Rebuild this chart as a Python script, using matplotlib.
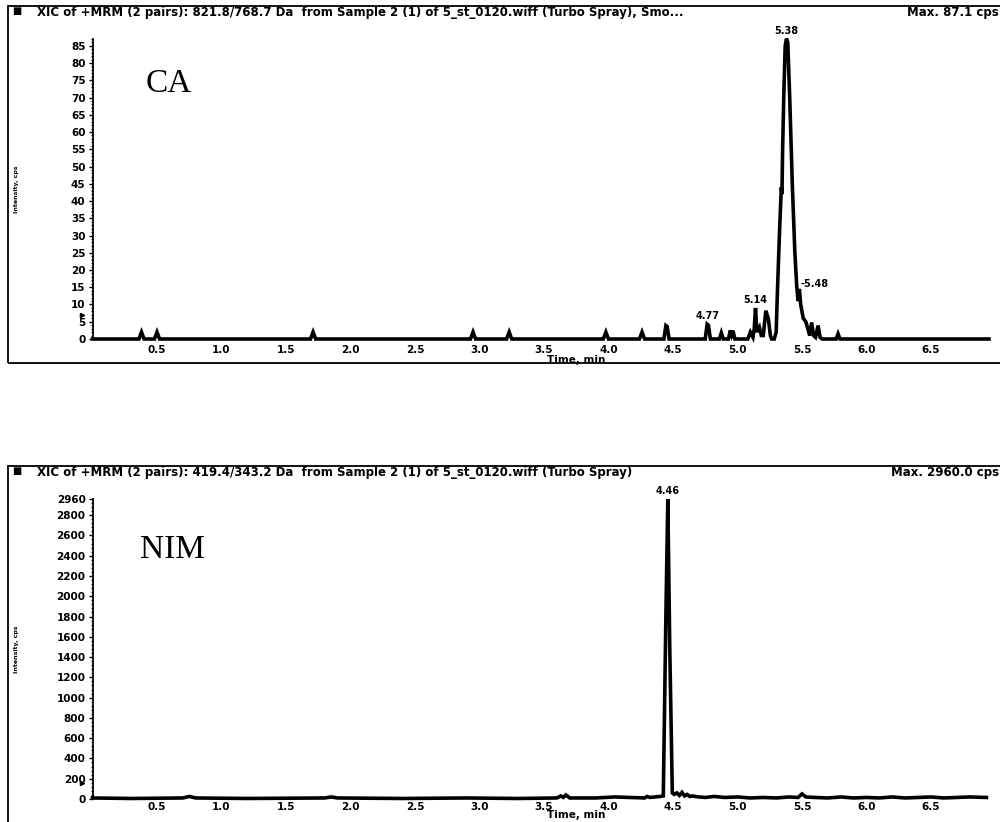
import matplotlib
matplotlib.use("Agg")
import matplotlib.pyplot as plt
from matplotlib.patches import Rectangle
from matplotlib.ticker import MultipleLocator, FixedLocator

# CA trace (821.8/768.7), time in min, intensity in cps
ca_time = [0.00, 0.36, 0.38, 0.40, 0.48, 0.50, 0.52, 1.69, 1.71, 1.73,
           2.93, 2.95, 2.97, 3.21, 3.23, 3.25, 3.96, 3.98, 4.00, 4.24,
           4.26, 4.28, 4.43, 4.445, 4.455, 4.47, 4.75, 4.765, 4.775, 4.79,
           4.86, 4.875, 4.89, 4.93, 4.945, 4.955, 4.965, 4.98, 5.08, 5.10,
           5.12, 5.13, 5.14, 5.15, 5.17, 5.185, 5.20, 5.22, 5.24, 5.255,
           5.265, 5.285, 5.30, 5.31, 5.325, 5.34, 5.345, 5.35, 5.36, 5.37,
           5.38, 5.39, 5.405, 5.425, 5.445, 5.46, 5.47, 5.48, 5.49, 5.51,
           5.53, 5.545, 5.56, 5.575, 5.59, 5.605, 5.625, 5.64, 5.655, 5.67,
           5.765, 5.78, 5.795, 6.95]
ca_int = [0.0, 0.0, 2.0, 0.0, 0.0, 2.0, 0.0, 0.0, 2.0, 0.0,
          0.0, 2.0, 0.0, 0.0, 2.0, 0.0, 0.0, 2.0, 0.0, 0.0,
          2.0, 0.0, 0.0, 3.9, 3.6, 0.0, 0.0, 4.3, 4.0, 0.0,
          0.0, 1.8, 0.0, 0.0, 2.5, 1.2, 2.4, 0.0, 0.0, 2.0,
          0.5, 3.0, 9.0, 2.0, 3.4, 1.0, 1.0, 8.2, 5.8, 1.0,
          0.0, 0.0, 2.0, 14.0, 30.0, 44.0, 42.0, 55.0, 72.0, 85.0,
          87.1, 86.0, 70.0, 45.0, 25.0, 15.0, 11.0, 14.5, 10.0, 6.0,
          5.0, 3.0, 1.0, 4.8, 1.0, 0.5, 3.9, 0.5, 0.0, 0.0,
          0.0, 1.5, 0.0, 0.0]

# NIM trace (419.4/343.2)
nim_time = [0.00, 0.30, 0.70, 0.75, 0.80, 1.20, 1.80, 1.85, 1.90, 2.40,
            2.90, 3.30, 3.60, 3.63, 3.65, 3.67, 3.70, 3.90, 4.05, 4.28,
            4.30, 4.32, 4.36, 4.40, 4.425, 4.445, 4.46, 4.475, 4.495, 4.51,
            4.53, 4.55, 4.57, 4.59, 4.61, 4.63, 4.65, 4.70, 4.75, 4.82,
            4.90, 5.00, 5.10, 5.20, 5.30, 5.40, 5.47, 5.50, 5.53, 5.60,
            5.70, 5.80, 5.90, 6.00, 6.10, 6.20, 6.30, 6.40, 6.50, 6.60,
            6.70, 6.80, 6.93]
nim_int = [10, 5, 10, 25, 10, 5, 10, 20, 10, 5,
           10, 5, 10, 30, 15, 40, 10, 10, 20, 10,
           25, 15, 20, 25, 30, 1800, 2960, 1500, 60, 45,
           60, 35, 65, 30, 45, 25, 30, 20, 15, 25,
           15, 20, 10, 15, 10, 20, 15, 50, 20, 15,
           10, 20, 10, 15, 10, 20, 10, 15, 20, 10,
           15, 20, 15]

x_ticks = [0.5, 1.0, 1.5, 2.0, 2.5, 3.0, 3.5, 4.0, 4.5, 5.0, 5.5, 6.0, 6.5]
ca_yticks = list(range(0, 90, 5))
nim_yticks = list(range(0, 3000, 200)) + [2960]

bold = dict(family="DejaVu Sans", fontweight="bold")

fig = plt.figure(figsize=(10, 8.22), dpi=100)


def panel(rect, title, maxtxt, t, y, ymax, yticks, yminor, big, big_xy, mark_y,
          xpad, time_y):
    ax = fig.add_axes(rect)
    ax.plot(t, y, color="black", lw=2.6, clip_on=False, solid_joinstyle="miter")
    ax.set_xlim(0, 6.95)
    ax.set_ylim(0, ymax)
    for s in ("top", "right", "bottom"):
        ax.spines[s].set_visible(False)
    ax.spines["left"].set_linewidth(1.3)
    ax.xaxis.set_major_locator(FixedLocator(x_ticks))
    ax.set_xticklabels(["%.1f" % v for v in x_ticks], fontsize=7.5, **bold)
    ax.tick_params(axis="x", length=0, pad=xpad)
    ax.yaxis.set_major_locator(FixedLocator(yticks))
    ax.yaxis.set_minor_locator(MultipleLocator(yminor))
    ax.set_yticklabels([str(v) for v in yticks], fontsize=7.5, **bold)
    ax.tick_params(axis="y", which="major", length=3, width=1, pad=2)
    ax.tick_params(axis="y", which="minor", length=1.5, width=0.8)
    ax.text(3.52, time_y, "Time, min", transform=ax.get_xaxis_transform(),
            ha="left", va="top", fontsize=7.5, **bold)
    ax.text(-0.085, 0.5, "Intensity, cps", transform=ax.transAxes,
            rotation=90, ha="center", va="center", fontsize=4.5, **bold)
    ax.text(big_xy[0], big_xy[1], big, transform=ax.get_xaxis_transform(),
            family="Liberation Serif", fontsize=24, ha="left", va="center")
    ax.plot([-0.012], [mark_y], marker=">", ms=3, color="black",
            transform=ax.get_yaxis_transform(), clip_on=False)

    # frame and title strip around the panel
    l, b, w, h = rect
    top = b + h + 0.04
    bot = b - 0.029 if b > 0.1 else -0.01
    fig.patches.append(Rectangle((0.008, bot), 1.2, top - bot,
                                 transform=fig.transFigure, fill=False,
                                 ec="black", lw=1.3))
    fig.text(0.012, top - 0.006, "\u25a0", fontsize=7, va="center", ha="left")
    fig.text(0.037, top - 0.008, title, fontsize=8.5, va="center", ha="left", **bold)
    fig.text(0.999, top - 0.008, maxtxt, fontsize=8.5, va="center", ha="right", **bold)
    return ax


ax1 = panel([0.0925, 0.5876, 0.8965, 0.3655],
            "XIC of +MRM (2 pairs): 821.8/768.7 Da  from Sample 2 (1) of 5_st_0120.wiff (Turbo Spray), Smo...",
            "Max. 87.1 cps", ca_time, ca_int, 87.1, ca_yticks, 1, "CA", (0.41, 0.85), 7,
            4, -0.052)
ax2 = panel([0.0925, 0.0280, 0.8965, 0.3650],
            "XIC of +MRM (2 pairs): 419.4/343.2 Da  from Sample 2 (1) of 5_st_0120.wiff (Turbo Spray)",
            "Max. 2960.0 cps", nim_time, nim_int, 2960, nim_yticks, 40, "NIM", (0.37, 0.83), 160,
            2, -0.036)

# peak apex labels
for t0, lab in [(5.38, "5.38"), (5.14, "5.14"), (4.765, "4.77")]:
    yv = ca_int[ca_time.index(t0)]
    ax1.annotate(lab, (t0, yv), xytext=(0, 2), textcoords="offset points",
                 ha="center", va="bottom", fontsize=7, **bold)
ax1.annotate("-5.48", (5.48, 14.5), xytext=(1, 0), textcoords="offset points",
             ha="left", va="bottom", fontsize=7, **bold)
ax2.annotate("4.46", (4.46, 2960), xytext=(0, 2), textcoords="offset points",
             ha="center", va="bottom", fontsize=7, **bold)

fig.savefig("out.png", dpi=100, facecolor="white")
